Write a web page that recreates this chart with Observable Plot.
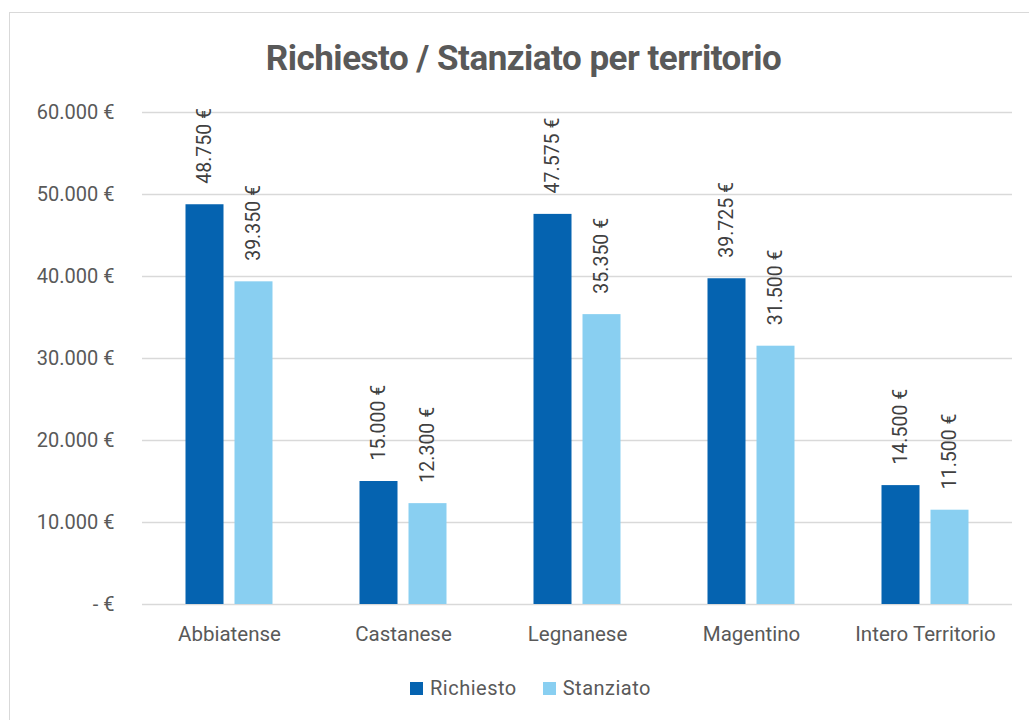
<!DOCTYPE html>
<html>
<head>
<meta charset="utf-8">
<script src="https://cdn.jsdelivr.net/npm/d3@7"></script>
<script src="https://cdn.jsdelivr.net/npm/@observablehq/plot@0.6"></script>
<style>
  html, body { margin: 0; padding: 0; background: #fff; }
  body { width: 1029px; height: 720px; position: relative; overflow: hidden; font-family: Roboto, "Open Sans", sans-serif; }
  #frame { position: absolute; left: 9px; top: 12px; width: 1030px; height: 720px; border: 1px solid #d9d9d9; box-sizing: border-box; }
  #title { position: absolute; left: 9px; width: 1029px; top: 38px; text-align: center; font-size: 35px; font-weight: 700; color: #595959; letter-spacing: -0.5px; }
  #chart { position: absolute; left: 0; top: 90px; }
  #legend { position: absolute; top: 676px; left: 16px; width: 1029px; display: flex; justify-content: center; gap: 26px; font-size: 20px; letter-spacing: 0.5px; color: #595959; }
  .item { display: flex; align-items: center; gap: 7px; }
  .sw { width: 13px; height: 13px; display: inline-block; }
</style>
</head>
<body>
<div id="frame"></div>
<div id="title">Richiesto / Stanziato per territorio</div>
<div id="chart"></div>
<div id="legend"></div>
<script>
const categories = ["Abbiatense", "Castanese", "Legnanese", "Magentino", "Intero Territorio"];
const series = ["Richiesto", "Stanziato"];
const richiesto = [48750, 15000, 47575, 39725, 14500];
const stanziato = [39350, 12300, 35350, 31500, 11500];
const yTicks = [0, 10000, 20000, 30000, 40000, 50000, 60000];
const colors = ["#0563B0", "#89CFF1"];

const locale = d3.formatLocale({decimal: ",", thousands: ".", grouping: [3], currency: ["", " €"]});
const fmtNum = locale.format(",.0f");
const fmtEuro = v => v === 0 ? "- €" : fmtNum(v) + " €";

const rowsR = categories.map((c, i) => ({cat: c, serie: series[0], value: richiesto[i]}));
const rowsS = categories.map((c, i) => ({cat: c, serie: series[1], value: stanziato[i]}));

const off = 24.5;
const inset = 68;

const plot = Plot.plot({
  width: 1029,
  height: 564,
  marginLeft: 142,
  marginRight: 17,
  marginTop: 22,
  marginBottom: 50,
  style: {fontFamily: "Roboto, sans-serif", background: "transparent"},
  x: {domain: categories, padding: 0, label: null},
  y: {domain: [0, 60000], label: null},
  color: {domain: series, range: colors},
  marks: [
    Plot.gridY(yTicks, {stroke: "#d9d9d9", strokeOpacity: 1, strokeWidth: 1.3}),
    Plot.axisY(yTicks, {tickSize: 0, tickPadding: 28, tickFormat: fmtEuro, fontSize: 20, fill: "#595959", label: null, style: "letter-spacing:0.4px"}),
    Plot.axisX({tickSize: 0, tickPadding: 22, fontSize: 20.5, fill: "#595959", label: null, style: "letter-spacing:0.5px"}),
    Plot.barY(rowsR, {x: "cat", y: "value", fill: "serie", dx: -off, insetLeft: inset, insetRight: inset}),
    Plot.barY(rowsS, {x: "cat", y: "value", fill: "serie", dx: off, insetLeft: inset, insetRight: inset}),
    Plot.text(rowsR, {x: "cat", y: "value", text: d => fmtEuro(d.value), rotate: -90, textAnchor: "start", dx: -off, dy: -21, fontSize: 19.5, fill: "#404040", style: "letter-spacing:0.4px"}),
    Plot.text(rowsS, {x: "cat", y: "value", text: d => fmtEuro(d.value), rotate: -90, textAnchor: "start", dx: off, dy: -21, fontSize: 19.5, fill: "#404040", style: "letter-spacing:0.4px"})
  ]
});
document.getElementById("chart").appendChild(plot);

const legend = document.getElementById("legend");
series.forEach((s, i) => {
  const it = document.createElement("div");
  it.className = "item";
  it.innerHTML = `<span class="sw" style="background:${colors[i]}"></span><span>${s}</span>`;
  legend.appendChild(it);
});
</script>
</body>
</html>
